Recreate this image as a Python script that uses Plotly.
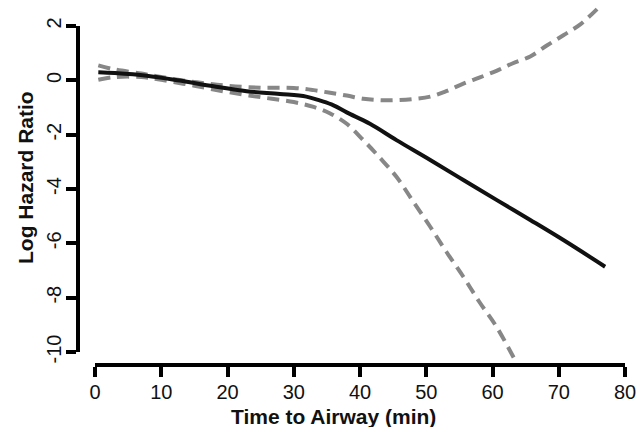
import plotly.graph_objects as go

# Spline estimate of log hazard ratio vs. time to airway, with 95% confidence bounds
est_x = [0.5, 3, 7.8, 12.8, 17.9, 22.9, 27.9, 31.9, 34, 36, 38, 41.5, 45.5, 50.6, 55.6, 60.6, 65.7, 70.7, 77]
est_y = [0.30, 0.27, 0.17, -0.01, -0.22, -0.40, -0.50, -0.60, -0.75, -0.92, -1.18, -1.60, -2.20, -2.93, -3.67, -4.40, -5.14, -5.88, -6.86]

upper_x = [0.5, 3, 7, 10, 15, 20, 25, 30, 33, 35.5, 38, 40.5, 43, 45.5, 48, 50.6, 53, 55.6, 58, 60.6, 63, 65.7, 68.2, 70.7, 73.2, 76.2]
upper_y = [0.55, 0.40, 0.25, 0.12, -0.06, -0.20, -0.27, -0.28, -0.36, -0.46, -0.56, -0.68, -0.73, -0.73, -0.69, -0.60, -0.40, -0.12, 0.10, 0.35, 0.62, 0.88, 1.28, 1.66, 2.05, 2.72]

lower_x = [0.5, 3, 7, 10, 15, 20, 25, 30, 33, 35.5, 38, 40.5, 43, 45.5, 48, 50.6, 53, 55.6, 58, 60.6, 63.4]
lower_y = [0.02, 0.12, 0.12, 0.02, -0.20, -0.43, -0.62, -0.80, -0.98, -1.22, -1.60, -2.20, -2.85, -3.55, -4.45, -5.39, -6.30, -7.23, -8.15, -9.07, -10.30]

x_ticks = [0, 10, 20, 30, 40, 50, 60, 70, 80]
y_ticks = [-10, -8, -6, -4, -2, 0, 2]

W, H = 638, 427
FONT = "Liberation Sans, Arial, sans-serif"

# pixel frame of the tick-range axes
x_px = (95, 625)
y_px_top, y_px_bot = 26, 352
x_line_px = 363      # panel edge the x axis line hangs from (line is drawn just outside)
y_line_px = 80       # panel edge the y axis line hangs from
y_tick_range = (-10, 2)
px_per_unit = (y_px_bot - y_px_top) / (y_tick_range[1] - y_tick_range[0])

# data panel: same vertical scale, slightly taller so curves run past the end ticks
y_data_range = (-10.3, 2.9)
data_top = y_px_top - (y_data_range[1] - y_tick_range[1]) * px_per_unit
data_bot = y_px_bot + (y_tick_range[0] - y_data_range[0]) * px_per_unit

x_dom = [x_px[0] / W, x_px[1] / W]

fig = go.Figure()

ci_style = dict(color="#878787", width=4, dash="12px,7px")
fig.add_trace(go.Scatter(x=upper_x, y=upper_y, mode="lines", line=ci_style,
                         line_shape="spline", showlegend=False, hoverinfo="skip"))
fig.add_trace(go.Scatter(x=lower_x, y=lower_y, mode="lines", line=ci_style,
                         line_shape="spline", showlegend=False, hoverinfo="skip"))
fig.add_trace(go.Scatter(x=est_x, y=est_y, mode="lines",
                         line=dict(color="#111111", width=4),
                         line_shape="spline", showlegend=False, hoverinfo="skip"))
# empty carrier traces so the detached axis panels get drawn
fig.add_trace(go.Scatter(x=[None], y=[None], xaxis="x2", yaxis="y3", mode="lines",
                         showlegend=False, hoverinfo="skip"))
fig.add_trace(go.Scatter(x=[None], y=[None], xaxis="x3", yaxis="y2", mode="lines",
                         showlegend=False, hoverinfo="skip"))

axis_common = dict(
    showline=True, linewidth=4, linecolor="#000000",
    ticks="outside", ticklen=10, tickwidth=4, tickcolor="#000000",
    showgrid=False, zeroline=False, automargin=False,
    tickfont=dict(family=FONT, size=20, color="#111111"),
)
hidden = dict(visible=False, automargin=False)

fig.update_layout(
    width=W, height=H,
    margin=dict(l=0, r=0, t=0, b=0, pad=0, autoexpand=False),
    paper_bgcolor="white", plot_bgcolor="white",
    font=dict(family=FONT),
    # data panel
    xaxis=dict(range=[0, 80], domain=x_dom, anchor="y", **hidden),
    yaxis=dict(range=list(y_data_range),
               domain=[1 - data_bot / H, 1 - data_top / H], anchor="x", **hidden),
    # visible x axis, hung from a thin panel whose bottom edge sits at the line
    xaxis2=dict(
        range=[0, 80], domain=x_dom, anchor="y3",
        tickmode="array", tickvals=x_ticks, ticktext=[str(v) for v in x_ticks],
        ticklabelstandoff=-2,
        **axis_common,
    ),
    yaxis3=dict(range=[0, 1], domain=[1 - x_line_px / H, 1 - (x_line_px - 2) / H],
                anchor="x2", **hidden),
    # visible y axis, hung from a thin panel whose left edge sits at the line
    yaxis2=dict(
        range=list(y_tick_range), domain=[1 - y_px_bot / H, 1 - y_px_top / H],
        anchor="x3",
        tickmode="array", tickvals=y_ticks, ticktext=[str(v) for v in y_ticks],
        tickangle=-90, ticklabelstandoff=-3,
        **axis_common,
    ),
    xaxis3=dict(range=[0, 1], domain=[y_line_px / W, (y_line_px + 2) / W],
                anchor="y2", **hidden),
    annotations=[
        dict(text="<b>Time to Airway (min)</b>", xref="paper", yref="paper",
             x=333 / W, y=1 - 416 / H, xanchor="center", yanchor="middle",
             showarrow=False, font=dict(family=FONT, size=21, color="#111111")),
        dict(text="<b>Log Hazard Ratio</b>", xref="paper", yref="paper",
             x=25 / W, y=1 - 178 / H, xanchor="center", yanchor="middle",
             textangle=-90, showarrow=False,
             font=dict(family=FONT, size=21, color="#111111")),
    ],
)

fig.write_html("out.html")
